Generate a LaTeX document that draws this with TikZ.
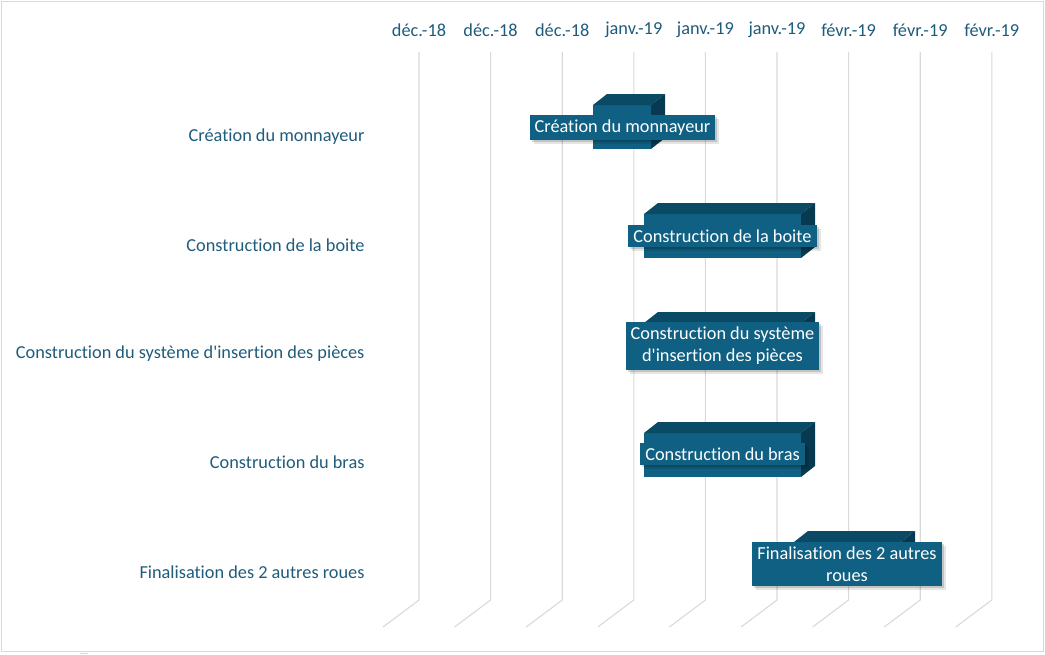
\documentclass[tikz,border=0pt]{standalone}
\usepackage{fontspec}
\setmainfont{Carlito}[Ligatures={NoCommon,TeXOff}]
\usetikzlibrary{positioning,shadows}
\definecolor{gtFront}{RGB}{15,96,130}
\definecolor{gtTop}{RGB}{11,74,100}
\definecolor{gtSide}{RGB}{7,58,80}
\definecolor{gtText}{RGB}{31,92,124}
\definecolor{gtGrid}{RGB}{217,217,217}

\begin{document}
\begin{tikzpicture}[x=1pt, y=-1pt,
    gridline/.style={draw=gtGrid, line width=1.1pt},
    datelabel/.style={text=gtText, font=\fontsize{18.3}{22}\selectfont},
    tasklabel/.style={text=gtText, font=\fontsize{18.3}{22}\selectfont, anchor=east},
    barlabel/.style={fill=gtFront, text=white, font=\fontsize{18.3}{22}\selectfont,
      align=center, inner xsep=5pt, inner ysep=5pt,
      drop shadow={shadow xshift=4pt, shadow yshift=-4pt, opacity=0.1, fill=black},
      drop shadow={shadow xshift=2pt, shadow yshift=-2pt, opacity=0.15, fill=black}}]
  \useasboundingbox (0,0) rectangle (1045,654);
  % Chart frame
  \draw[gtGrid, line width=1pt] (1.5,1.5) rectangle (1043.5,651.5);
  \draw[gtGrid, line width=1pt] (80,653.5) -- (88,653.5);

  % Date axis and grid
  \foreach \lbl [count=\i from 0] in {déc.-18, déc.-18, déc.-18, janv.-19, janv.-19, janv.-19, févr.-19, févr.-19, févr.-19} {
    \pgfmathsetmacro{\gx}{419+71.6*\i}
    \node[datelabel] (date\i) at (\gx,30) {\lbl};
    \draw[gridline] (\gx,52) -- (\gx,600) -- (\gx-36,627);
  }

  % Task names
  \foreach \txt/\ty [count=\i] in {Création du monnayeur/137, Construction de la boite/245,
      Construction du système d'insertion des pièces/354, Construction du bras/462,
      Finalisation des 2 autres roues/572} {
    \node[tasklabel] (task\i) at (368,\ty) {\txt};
  }

  % 3D bars: front, top, side
  \foreach \xa/\xb/\ya in {593/651/105, 644/801/214, 644/801/323, 644/801/433, 794/901/542} {
    \fill[gtFront] (\xa,\ya) rectangle (\xb,{\ya+44});
    \fill[gtTop] (\xa,\ya) -- ({\xa+14},{\ya-11}) -- ({\xb+14},{\ya-11}) -- (\xb,\ya) -- cycle;
    \fill[gtSide] (\xb,\ya) -- ({\xb+14},{\ya-11}) -- ({\xb+14},{\ya+33}) -- (\xb,{\ya+44}) -- cycle;
  }

  % Bar labels
  \node[barlabel] (bar1) at (622.5,127.5) {Création du monnayeur};
  \node[barlabel] (bar2) at (722.5,236) {Construction de la boite};
  \node[barlabel] (bar3) at (722.5,346) {Construction du système\\d'insertion des pièces};
  \node[barlabel] (bar4) at (722.5,454) {Construction du bras};
  \node[barlabel] (bar5) at (847,564) {Finalisation des 2 autres\\roues};
\end{tikzpicture}
\end{document}
